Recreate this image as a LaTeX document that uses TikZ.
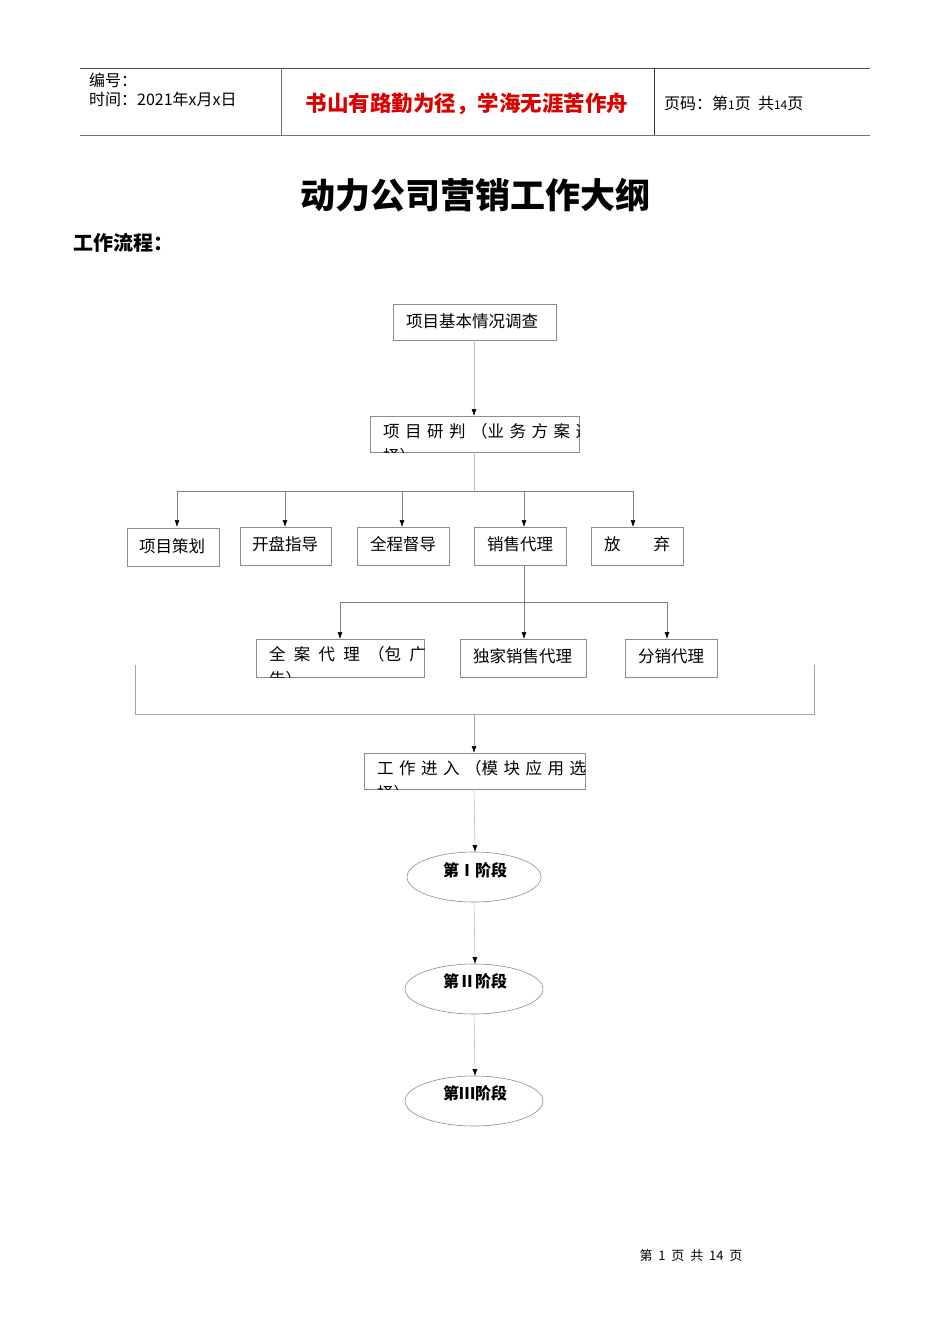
\documentclass[tikz,border=0pt]{standalone}
\usepackage{fontspec}
\setmainfont{Liberation Serif}
\newfontfamily\cjk{Noto Sans CJK SC}
\usetikzlibrary{arrows.meta,shapes.geometric}
\begin{document}
\begin{tikzpicture}[x=1pt,y=-1pt,
  bx/.style={draw=black!45,line width=0.7pt},
  ln/.style={draw=black!50,line width=0.6pt},
  ar/.style={ln,-{Latex[length=7pt,width=5pt,black]}},
  tx/.style={anchor=west,inner sep=0pt,font=\cjk\fontsize{16.5}{18}\selectfont},
  cl/.style={anchor=north west,inner sep=0pt,align=left,font=\cjk\fontsize{16.5}{25}\selectfont},
  el/.style={draw=black!45,line width=0.6pt,ellipse},
  et/.style={inner sep=0pt,font=\cjk\bfseries\fontsize{16}{18}\selectfont}]
\useasboundingbox (0,0) rectangle (950,1344);
\fill[white] (0,0) rectangle (950,1344);
% header
\draw[black!70,line width=0.8pt] (80,68)--(870,68);
\draw[black!55,line width=1.2pt] (80,135.5)--(870,135.5);
\draw[black!55,line width=0.7pt] (281,68)--(281,135);
\draw[black!80,line width=0.7pt] (654,68)--(654,135);
\node[tx,font=\cjk\fontsize{16}{18}\selectfont] (h1) at (89,80) {编号：};
\node[tx,font=\cjk\fontsize{16}{18}\selectfont] (h2) at (89,99) {时间：2021年x月x日};
\node[inner sep=0pt,text=red!85!black,font=\cjk\bfseries\fontsize{21.5}{24}\selectfont] (h3) at (467,104) {书山有路勤为径，学海无涯苦作舟};
\node[tx,font=\cjk\fontsize{16}{18}\selectfont] (h4) at (664,103) {页码：第{\fontsize{12}{14}\selectfont 1}页\ \ 共{\fontsize{12}{14}\selectfont 14}页};
\node[inner sep=0pt,font=\cjk\bfseries\fontsize{35}{40}\selectfont] (title) at (475,195) {动力公司营销工作大纲};
\node[anchor=west,inner sep=0pt,font=\cjk\bfseries\fontsize{20}{24}\selectfont] (sub) at (73,243) {工作流程：};
% boxes
\draw[bx] (393,304) rectangle (556,340); \node[tx] (b1) at (406,321) {项目基本情况调查};
\draw[bx] (370,416) rectangle (579,452);
\begin{scope}\clip (370,416) rectangle (579,452);
\node[cl] (b2) at (383,423) {项\,\,目\,\,研\,\,判\,\,（业\,\,务\,\,方\,\,案\,\,选\\择）};\end{scope}
\draw[bx] (127,528) rectangle (219,566); \node[tx] (c1) at (139,546) {项目策划};
\draw[bx] (240,527) rectangle (331,565); \node[tx] (c2) at (252,544) {开盘指导};
\draw[bx] (357,527) rectangle (449,565); \node[tx] (c3) at (370,544) {全程督导};
\draw[bx] (474,527) rectangle (566,565); \node[tx] (c4) at (487,544) {销售代理};
\draw[bx] (591,527) rectangle (683,565); \node[tx] (c5) at (604,544) {放\hspace{2em}弃};
\draw[bx] (256,639) rectangle (424,677);
\begin{scope}\clip (256,639) rectangle (424,677);
\node[cl] (d1) at (269,646) {全\hspace{0.5em}案\hspace{0.5em}代\hspace{0.5em}理\hspace{0.5em}（包\hspace{0.5em}广\\告）};\end{scope}
\draw[bx] (460,639) rectangle (586,677); \node[tx] (d2) at (473,656) {独家销售代理};
\draw[bx] (625,639) rectangle (717,677); \node[tx] (d3) at (638,656) {分销代理};
\draw[bx] (364,753) rectangle (585,789);
\begin{scope}\clip (364,753) rectangle (585,789);
\node[cl] (e1) at (377,760) {工\,\,作\,\,进\,\,入\,\,（模\,\,块\,\,应\,\,用\,\,选\\择）};\end{scope}
% connectors
\draw[ar,black!25] (474,340)--(474,416);
\draw[ln,black!25] (474,452)--(474,491);
\draw[ln] (177,491)--(633,491);
\foreach \x in {177,285,402,524,633} \draw[ar] (\x,491)--(\x,527);
\draw[ln] (524,565)--(524,602);
\draw[ln] (340,602)--(667,602);
\foreach \x in {340,524,667} \draw[ar] (\x,602)--(\x,639);
\draw[ln,black!35] (135,665)--(135,714)--(814,714)--(814,665);
\draw[ar,black!35] (474,714)--(474,753);
% ellipses
\draw[el] (474,877) ellipse [x radius=67,y radius=25];
\node[et] (s1) at (475,870) {第Ⅰ阶段};
\draw[el] (474,989) ellipse [x radius=69,y radius=25];
\node[et] (s2) at (475,981) {第Ⅱ阶段};
\draw[el] (474,1101) ellipse [x radius=69,y radius=25];
\node[et] (s3) at (475,1093) {第Ⅲ阶段};
\draw[ar,black!25] (474,789)--(475,852);
\draw[ar,black!25] (474,902)--(475,964);
\draw[ar,black!25] (474,1014)--(475,1076);
% footer
\node[inner sep=0pt,font=\cjk\fontsize{13}{15}\selectfont] (foot) at (691,1256) {第\ \ 1\ \ 页\ \ 共\ \ 14\ \ 页};
\end{tikzpicture}
\end{document}
